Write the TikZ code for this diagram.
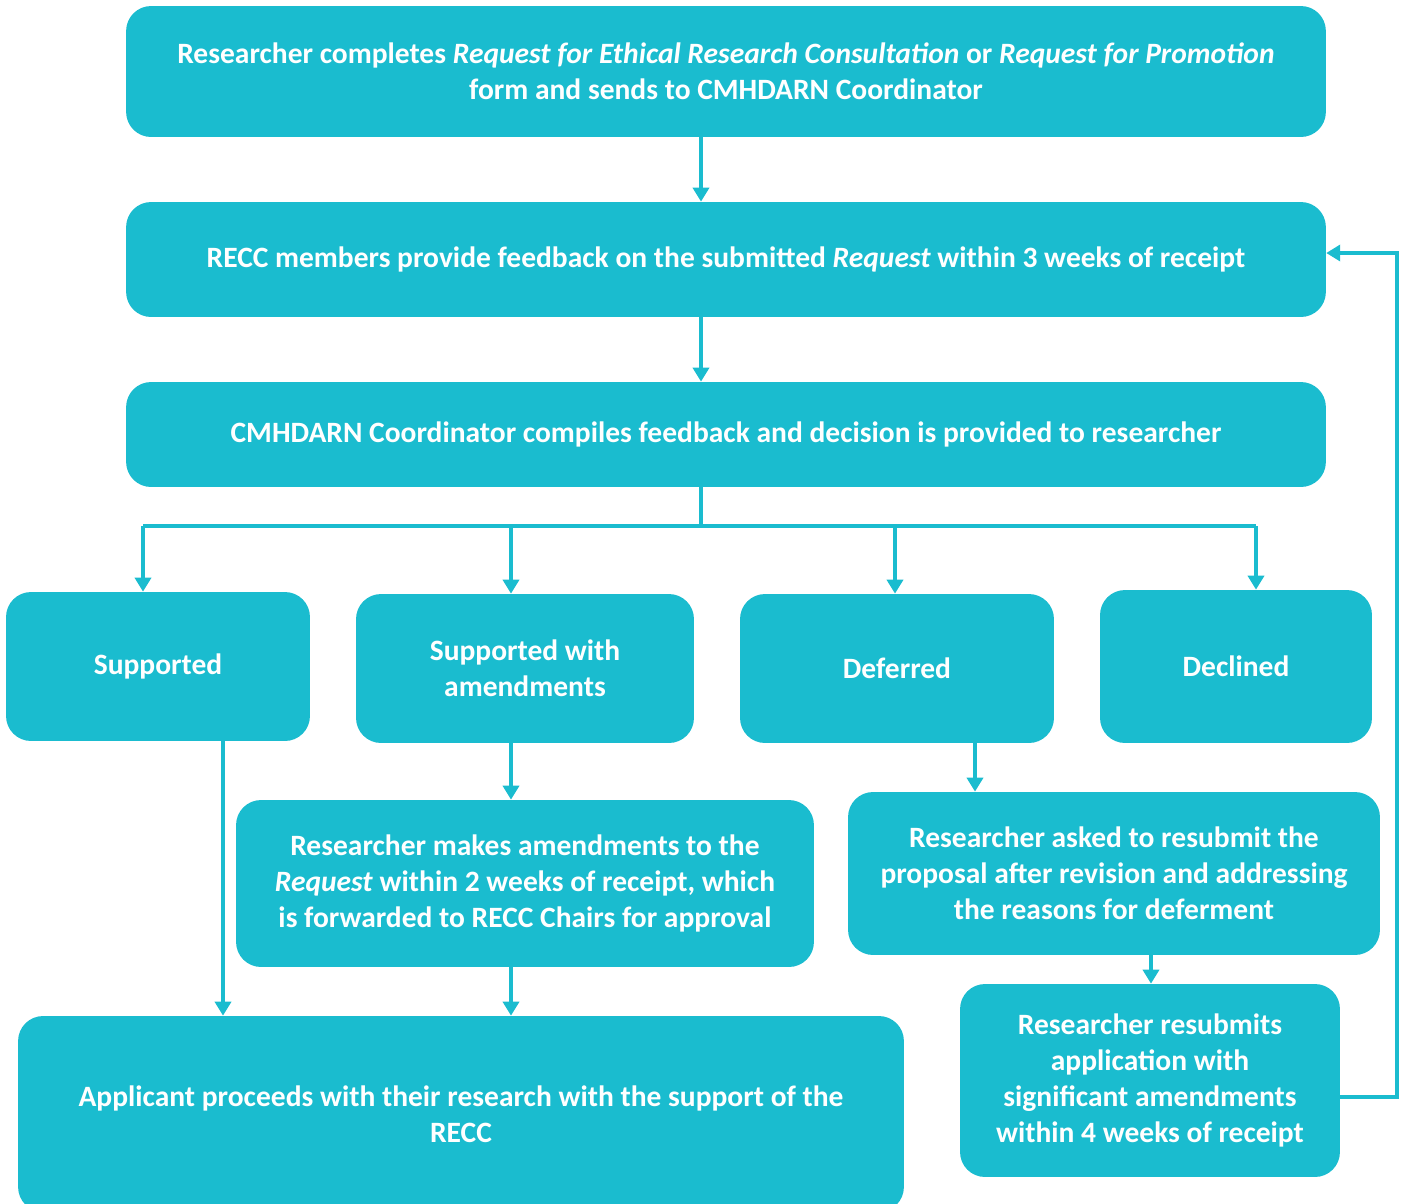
\documentclass[tikz,border=0pt]{standalone}
\usepackage{fontspec}
\setmainfont{Carlito}
\usepackage{tikz}
\usetikzlibrary{calc,arrows.meta}
\definecolor{recc}{HTML}{1ABCCF}

\begin{document}
\begin{tikzpicture}[x=0.02cm, y=-0.02cm,
	box/.style={fill=recc, rounded corners=0.5cm, align=center, text=white, inner sep=0pt,
		font=\fontsize{16.8}{20.5}\selectfont\bfseries},
	link/.style={draw=recc, line width=0.08cm},
	arr/.style={link, -{Triangle[width=0.32cm, length=0.28cm]}}]
			%%%%% START %%%%%
			
			\useasboundingbox (0, 0) rectangle (1404, 1204);
			
			\node[box, minimum width=24cm, minimum height=2.62cm] (req) at (726, 71.5)
				{Researcher completes \textit{Request for Ethical Research Consultation} or \textit{Request for Promotion}\\ form and sends to CMHDARN Coordinator};
			\node[box, minimum width=24cm, minimum height=2.3cm] (fb) at (726, 259.5)
				{RECC members provide feedback on the submitted \textit{Request} within 3 weeks of receipt};
			\node[box, minimum width=24cm, minimum height=2.1cm] (comp) at (726, 434.5)
				{CMHDARN Coordinator compiles feedback and decision is provided to researcher};
			
			\node[box, minimum width=6.08cm, minimum height=2.98cm] (sup) at (158, 666.5) {Supported};
			\node[box, minimum width=6.76cm, minimum height=2.98cm] (supam) at (525, 668.5) {Supported with\\ amendments};
			\node[box, minimum width=6.28cm, minimum height=2.98cm] (def) at (897, 668.5) {Deferred};
			\node[box, minimum width=5.44cm, minimum height=3.06cm] (dec) at (1236, 666.5) {Declined};
			
			\node[box, minimum width=11.56cm, minimum height=3.34cm] (amend) at (525, 883.5)
				{Researcher makes amendments to the\\ \textit{Request} within 2 weeks of receipt, which\\ is forwarded to RECC Chairs for approval};
			\node[box, minimum width=10.64cm, minimum height=3.26cm] (ask) at (1114, 873.5)
				{Researcher asked to resubmit the\\ proposal after revision and addressing\\ the reasons for deferment};
			\node[box, minimum width=17.72cm, minimum height=3.92cm] (go) at (461, 1114)
				{Applicant proceeds with their research with the support of the\\ RECC};
			\node[box, minimum width=7.6cm, minimum height=3.86cm] (resub) at (1150, 1080.5)
				{Researcher resubmits\\ application with\\ significant amendments\\ within 4 weeks of receipt};
			
			% x positions of the connectors
			\coordinate (mx) at (701, 0);
			\coordinate (split) at (701, 526);
			\coordinate (b1) at (143, 526);
			\coordinate (b2) at (511, 526);
			\coordinate (b3) at (895, 526);
			\coordinate (b4) at (1256, 526);
			\coordinate (sx) at (223, 0);
			\coordinate (dx) at (975, 0);
			\coordinate (ax) at (1151, 0);
			\coordinate (rx) at (1397, 1097);
			\coordinate (ry) at (1397, 253);
			
			\draw[arr] (req.south -| mx) -- (fb.north -| mx);
			\draw[arr] (fb.south -| mx) -- (comp.north -| mx);
			
			\draw[link] (comp.south -| split) -- (split);
			\draw[link] (b1) -- (b4);
			\draw[arr] (b1) -- (sup.north -| b1);
			\draw[arr] (b2) -- (supam.north -| b2);
			\draw[arr] (b3) -- (def.north -| b3);
			\draw[arr] (b4) -- (dec.north -| b4);
			
			\draw[arr] (sup.south -| sx) -- (go.north -| sx);
			\draw[arr] (supam.south -| b2) -- (amend.north -| b2);
			\draw[arr] (amend.south -| b2) -- (go.north -| b2);
			\draw[arr] (def.south -| dx) -- (ask.north -| dx);
			\draw[arr] (ask.south -| ax) -- (resub.north -| ax);
			\draw[arr] (resub.east |- rx) -- (rx) -- (ry) -- (fb.east |- ry);
			
			%%%%% END %%%%%
\end{tikzpicture}
\end{document}
